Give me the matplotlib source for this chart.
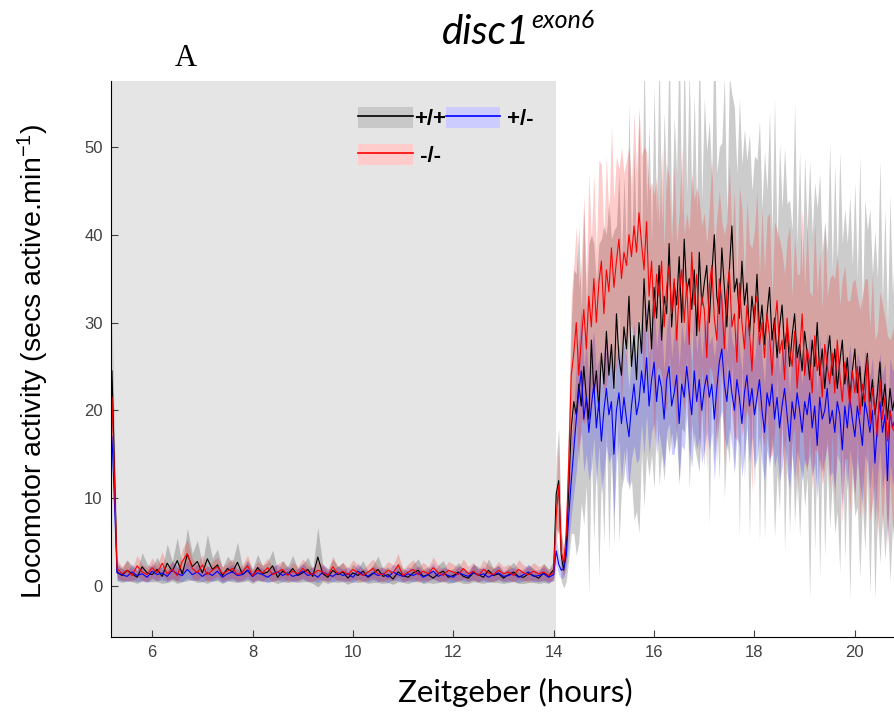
import numpy as np
import matplotlib
matplotlib.use('Agg')
import matplotlib.pyplot as plt
from matplotlib.patches import Patch
from matplotlib.lines import Line2D
from matplotlib.legend_handler import HandlerTuple

plt.rcParams['mathtext.fontset'] = 'custom'
plt.rcParams['mathtext.rm'] = 'Liberation Sans'
plt.rcParams['mathtext.it'] = 'Liberation Sans:italic'
plt.rcParams['axes.unicode_minus'] = False

# time axis: dark phase every 0.1 h, light phase every 0.05 h
t_dark = np.linspace(5.2, 14.0, 89)
t_light = np.linspace(14.05, 20.8, 136)

# mean activity, +/+ (black)
wt_dark = [24.5, 1.6, 1.2, 1.8, 1.4, 1.0, 2.2, 1.5, 1.3, 1.9,
    1.1, 2.6, 1.7, 2.9, 1.4, 3.6, 2.2, 2.8, 1.5, 3.1,
    1.9, 2.4, 1.2, 2.0, 1.6, 2.7, 1.3, 1.8, 1.1, 2.1,
    1.4, 1.6, 2.3, 1.0, 1.7, 1.3, 2.0, 1.2, 1.5, 1.9,
    1.1, 3.3, 1.4, 1.0, 1.8, 1.3, 1.6, 0.9, 1.5, 1.2,
    1.7, 1.0, 1.4, 1.9, 1.1, 1.3, 0.8, 1.6, 1.2, 1.0,
    1.5, 1.8, 1.1, 1.3, 0.9, 1.4, 1.7, 1.0, 1.2, 1.6,
    1.1, 0.9, 1.5, 1.3, 1.0, 1.8, 1.2, 1.4, 0.9, 1.3,
    1.6, 1.1, 1.0, 1.4, 1.2, 0.9, 1.5, 1.1, 1.9]
wt_light = [10.5, 12.0, 3.5, 1.8, 4.5, 11.0, 18.0, 21.0, 19.5, 23.0,
    20.5, 25.0, 21.5, 19.0, 28.0, 22.0, 24.5, 20.0, 26.5, 23.0,
    29.0, 24.0, 27.5, 22.5, 31.0, 26.0, 24.0, 29.5, 27.0, 33.0,
    25.0, 28.5, 23.5, 30.0, 26.5, 35.0, 29.0, 32.5, 27.0, 34.0,
    30.5, 36.5, 28.0, 33.0, 31.0, 39.0, 29.5, 34.5, 32.0, 37.5,
    30.0, 39.5, 33.5, 35.0, 31.5, 36.0, 28.5, 38.0, 32.0, 34.5,
    36.5, 30.0, 35.5, 40.0, 33.0, 31.0, 38.5, 34.0, 29.5, 36.0,
    41.0, 33.5, 35.0, 30.5, 37.0, 32.0, 34.5, 28.5, 33.0, 30.0,
    35.5, 29.0, 32.0, 27.5, 31.0, 34.0, 28.0, 30.5, 26.0, 29.5,
    32.0, 27.0, 29.5, 25.0, 28.5, 31.0, 26.0, 27.5, 24.5, 29.0,
    26.5, 23.5, 28.0, 25.0, 30.0, 24.0, 27.0, 22.5, 26.0, 28.5,
    24.0, 27.0, 22.5, 25.5, 28.0, 23.0, 26.0, 21.5, 24.5, 27.0,
    22.0, 25.0, 20.5, 24.0, 26.5, 21.0, 23.5, 19.5, 22.0, 25.5,
    20.5, 23.0, 19.0, 22.5, 20.0, 21.5]

# mean activity, +/- (blue)
het_dark = [17.0, 1.5, 1.3, 1.1, 1.6, 1.2, 1.4, 1.0, 1.7, 1.3,
    1.5, 1.1, 1.8, 1.4, 1.2, 1.9, 1.3, 1.6, 1.1, 1.5,
    1.2, 1.7, 1.0, 1.4, 1.6, 1.2, 1.3, 1.8, 1.1, 1.5,
    1.3, 1.0, 1.4, 1.6, 1.2, 1.5, 1.1, 1.3, 1.7, 1.2,
    1.4, 1.0, 1.6, 1.3, 1.1, 1.5, 1.2, 1.4, 1.0, 1.7,
    1.3, 1.1, 1.5, 1.2, 1.4, 1.0, 1.6, 1.3, 1.1, 1.4,
    1.2, 1.5, 1.0, 1.3, 1.7, 1.1, 1.4, 1.2, 1.0, 1.5,
    1.3, 1.1, 1.6, 1.2, 1.4, 1.0, 1.3, 1.5, 1.1, 1.2,
    1.4, 1.0, 1.3, 1.6, 1.1, 1.2, 1.4, 1.0, 1.3]
het_light = [4.0, 2.5, 1.8, 2.0, 3.5, 8.0, 12.0, 15.5, 19.0, 22.0,
    24.5, 19.0, 21.5, 17.5, 20.5, 23.0, 18.0, 21.0, 16.5, 20.0,
    22.5, 19.5, 21.0, 15.0, 20.0, 22.0, 18.5, 21.5, 19.0, 17.0,
    20.5, 23.0, 19.5, 21.0, 24.5, 22.0, 26.0, 20.5, 23.5, 25.5,
    21.0, 24.0, 22.5, 19.0, 23.5, 25.0, 20.5, 22.0, 24.0, 18.5,
    23.0, 21.5, 25.0, 22.0, 19.5, 24.5, 21.0, 23.5, 20.0, 22.5,
    24.0, 21.5, 23.0, 19.0, 22.5, 25.5, 27.0, 23.0, 21.0, 24.5,
    22.0, 20.0, 23.5, 21.5, 18.5, 22.0, 24.0, 20.5, 22.5, 19.5,
    21.5, 23.5, 20.0, 17.5, 22.0, 20.5, 23.0, 19.0, 21.5, 18.0,
    20.5, 22.5, 19.5, 16.5, 21.0, 19.0, 22.0, 20.0, 17.5, 21.0,
    19.5, 22.0, 18.0, 20.5, 16.0, 21.5, 19.0, 20.0, 22.5, 18.5,
    20.0, 17.5, 21.0, 19.5, 15.5, 20.5, 18.0, 21.5, 19.0, 17.0,
    20.5, 18.5, 16.0, 21.0, 19.5, 17.5, 20.0, 14.0, 18.5, 21.0,
    17.5, 19.5, 12.0, 20.0, 18.0, 19.0]

# mean activity, -/- (red)
hom_dark = [21.5, 2.0, 1.4, 1.8, 1.2, 2.3, 1.6, 1.3, 2.1, 1.5,
    2.6, 1.4, 1.9, 1.2, 2.8, 3.7, 2.0, 1.5, 2.4, 1.3,
    1.8, 2.2, 1.4, 1.7, 2.0, 1.3, 1.6, 2.3, 1.2, 1.8,
    1.5, 2.1, 1.3, 1.6, 1.9, 1.2, 1.7, 1.4, 2.0, 1.5,
    1.3, 1.8, 1.6, 1.2, 2.2, 1.4, 1.7, 1.3, 1.9, 1.5,
    1.2, 1.6, 2.0, 1.4, 1.3, 1.8, 1.5, 2.4, 1.2, 1.6,
    1.9, 1.3, 1.7, 1.4, 2.1, 1.5, 1.2, 1.8, 1.6, 1.3,
    2.0, 1.4, 1.7, 1.2, 1.9, 1.5, 1.3, 1.8, 1.4, 1.6,
    1.2, 1.9, 1.5, 1.3, 1.7, 1.4, 1.6, 1.2, 1.5]
hom_light = [8.0, 11.5, 4.0, 2.6, 6.0, 14.0, 24.0, 26.5, 30.0, 24.0,
    28.0, 31.5, 27.0, 33.0, 29.5, 35.0, 30.0, 34.5, 37.0, 31.0,
    36.0, 33.5, 38.5, 34.0, 37.0, 39.5, 35.0, 38.0, 36.5, 40.0,
    37.5, 41.0, 38.0, 42.5, 39.0, 36.0, 41.5, 33.0, 37.0, 30.5,
    35.5, 33.0, 37.0, 29.5, 34.0, 36.5, 31.0, 35.0, 28.0, 33.5,
    36.0, 30.0, 34.5, 27.5, 38.0, 32.0, 35.5, 29.0, 33.0, 31.5,
    26.0, 34.0, 36.5, 30.5, 28.0, 35.0, 32.5, 27.0, 33.5, 36.0,
    29.5, 31.0, 25.5, 34.5, 30.0, 27.0, 32.0, 29.0, 24.5, 31.5,
    33.0, 27.5, 30.0, 26.0, 31.0, 28.5, 24.0, 29.5, 32.5, 26.5,
    28.0, 23.5, 30.5, 27.0, 25.0, 29.0, 22.5, 26.5, 31.0, 24.0,
    27.0, 25.5, 22.0, 28.5, 24.5, 26.0, 21.5, 27.5, 25.0, 23.0,
    26.5, 22.0, 28.0, 24.0, 21.0, 25.5, 23.5, 20.5, 24.5, 22.0,
    25.0, 19.5, 23.0, 21.0, 26.0, 18.5, 22.5, 20.0, 17.0, 23.5,
    19.0, 21.5, 16.5, 20.0, 18.0, 17.5]

# error band half widths
wt_err_dark = [6.0, 1.0, 0.8, 1.2, 0.9, 0.7, 1.6, 1.0, 0.8, 1.4,
    0.8, 2.2, 1.1, 2.6, 0.9, 3.0, 1.5, 2.4, 1.0, 2.8,
    1.3, 1.8, 0.9, 1.4, 1.1, 2.3, 0.8, 1.2, 0.8, 1.5,
    0.9, 1.1, 1.8, 0.7, 1.2, 0.9, 1.5, 0.8, 1.0, 1.4,
    0.8, 3.4, 0.9, 0.7, 1.3, 0.9, 1.1, 0.7, 1.0, 0.8,
    1.2, 0.7, 1.0, 1.5, 0.8, 0.9, 0.6, 1.1, 0.8, 0.7,
    1.0, 1.3, 0.8, 0.9, 0.6, 1.0, 1.2, 0.7, 0.8, 1.1,
    0.8, 0.6, 1.0, 0.9, 0.7, 1.3, 0.8, 1.0, 0.6, 0.9,
    1.1, 0.8, 0.7, 1.0, 0.8, 0.6, 1.1, 0.8, 1.0]
wt_err_light = [4, 6, 3, 2, 4, 8, 12, 15, 16, 18,
    11, 18, 10, 20, 12, 17, 10, 19, 13, 18,
    11, 20, 12, 18, 10, 21, 13, 17, 11, 22,
    13, 21, 15, 24, 11, 26, 14, 20, 12, 23,
    11, 25, 13, 21, 14, 24, 12, 19, 15, 26,
    12, 22, 11, 24, 13, 20, 14, 25, 12, 21,
    13, 23, 11, 26, 14, 19, 12, 24, 13, 22,
    15, 21, 12, 25, 11, 20, 14, 23, 12, 19,
    13, 24, 11, 22, 14, 20, 12, 25, 13, 21,
    11, 23, 14, 19, 12, 24, 13, 22, 11, 20,
    14, 25, 12, 21, 13, 23, 11, 19, 12, 22,
    12, 21, 14, 24, 11, 20, 13, 23, 12, 19,
    13, 24, 11, 20, 14, 22, 12, 21, 13, 23,
    12, 20, 11, 22, 13, 19]

het_err_dark = [3.0, 0.8, 0.7, 0.6, 0.9, 0.7, 0.8, 0.6, 0.9, 0.7,
    0.8, 0.6, 1.0, 0.8, 0.7, 1.0, 0.7, 0.9, 0.6, 0.8,
    0.7, 0.9, 0.6, 0.8, 0.9, 0.7, 0.7, 1.0, 0.6, 0.8,
    0.7, 0.6, 0.8, 0.9, 0.7, 0.8, 0.6, 0.7, 0.9, 0.7,
    0.8, 0.6, 0.9, 0.7, 0.6, 0.8, 0.7, 0.8, 0.6, 0.9,
    0.7, 0.6, 0.8, 0.7, 0.8, 0.6, 0.9, 0.7, 0.6, 0.8,
    0.7, 0.8, 0.6, 0.7, 0.9, 0.6, 0.8, 0.7, 0.6, 0.8,
    0.7, 0.6, 0.9, 0.7, 0.8, 0.6, 0.7, 0.8, 0.6, 0.7,
    0.8, 0.6, 0.7, 0.9, 0.6, 0.7, 0.8, 0.6, 0.7]
het_err_light = [1.5, 1.2, 1.0, 1.0, 1.5, 3.0, 4.0, 5.0, 6.0, 6.0,
    7.0, 6.0, 6.5, 5.5, 7.0, 6.0, 6.5, 5.0, 6.0, 7.0,
    6.5, 5.5, 6.0, 7.0, 6.0, 5.5, 6.5, 6.0, 7.0, 5.5,
    6.0, 7.0, 5.5, 6.5, 6.0, 7.0, 6.5, 5.5, 6.0, 7.0,
    6.0, 6.5, 7.0, 5.5, 6.0, 6.5, 5.5, 7.0, 6.0, 6.5,
    7.0, 6.0, 5.5, 6.5, 6.0, 7.0, 5.5, 6.5, 6.0, 7.0,
    6.5, 6.0, 5.5, 7.0, 6.0, 6.5, 7.0, 6.0, 5.5, 6.5,
    6.0, 7.0, 6.5, 5.5, 6.0, 7.0, 6.0, 6.5, 5.5, 6.0,
    7.0, 6.5, 6.0, 5.5, 6.5, 7.0, 6.0, 5.5, 6.5, 6.0,
    7.0, 6.0, 6.5, 5.5, 6.0, 7.0, 6.5, 6.0, 5.5, 6.5,
    6.0, 7.0, 5.5, 6.5, 6.0, 7.0, 6.0, 5.5, 6.5, 6.0,
    7.0, 6.5, 6.0, 5.5, 6.5, 6.0, 7.0, 6.0, 5.5, 6.5,
    6.0, 7.0, 6.5, 6.0, 5.5, 6.5, 6.0, 7.0, 6.0, 5.5,
    6.5, 6.0, 7.0, 6.0, 6.5, 6.0]

hom_err_dark = [3.0, 1.0, 0.8, 1.1, 0.7, 1.2, 0.9, 0.8, 1.1, 0.9,
    1.3, 0.8, 1.0, 0.7, 1.4, 1.6, 1.1, 0.9, 1.2, 0.8,
    1.0, 1.1, 0.8, 0.9, 1.1, 0.7, 0.9, 1.2, 0.7, 1.0,
    0.9, 1.1, 0.8, 0.9, 1.0, 0.7, 1.0, 0.8, 1.1, 0.9,
    0.8, 1.0, 0.9, 0.7, 1.2, 0.8, 1.0, 0.8, 1.1, 0.9,
    0.7, 0.9, 1.1, 0.8, 0.8, 1.0, 0.9, 1.3, 0.7, 0.9,
    1.1, 0.8, 1.0, 0.8, 1.2, 0.9, 0.7, 1.0, 0.9, 0.8,
    1.1, 0.8, 1.0, 0.7, 1.1, 0.9, 0.8, 1.0, 0.8, 0.9,
    0.7, 1.1, 0.9, 0.8, 1.0, 0.8, 0.9, 0.7, 0.9]
hom_err_light = [3, 5, 2, 1.5, 3, 6, 9, 10, 11, 10,
    9, 13, 8, 14, 10, 12, 8, 14, 11, 9,
    13, 8, 14, 10, 12, 8, 15, 9, 12, 10,
    8, 13, 9, 12, 10, 14, 8, 12, 9, 14,
    11, 8, 13, 9, 14, 10, 8, 13, 11, 9,
    14, 10, 8, 13, 9, 12, 10, 15, 8, 11,
    13, 9, 12, 8, 14, 10, 9, 13, 8, 12,
    10, 14, 9, 11, 13, 8, 12, 10, 14, 9,
    12, 8, 13, 10, 11, 14, 9, 12, 8, 13,
    10, 12, 9, 14, 8, 11, 13, 9, 12, 10,
    14, 8, 11, 13, 9, 12, 10, 14, 8, 12,
    9, 13, 10, 8, 14, 11, 9, 12, 10, 13,
    8, 12, 10, 14, 9, 11, 13, 8, 12, 10,
    13, 9, 12, 8, 11, 13]

genotypes = ['+/+', ' +/-', ' -/-']
colors = ['k', '#0000ff', '#ff0000']
legend_fill = ['#c8c8c8', '#ccccff', '#ffcccc']


def shaded_line(ax, t, mean, err, color):
    mean = np.asarray(mean, dtype=float)
    err = np.asarray(err, dtype=float)
    ax.fill_between(t, mean - err, mean + err, color=color, alpha=0.2,
        linewidth=0)
    ax.plot(t, mean, color=color, linewidth=0.8)


t = np.concatenate([t_dark, t_light])
means = [wt_dark + wt_light, het_dark + het_light, hom_dark + hom_light]
errs = [wt_err_dark + wt_err_light, het_err_dark + het_err_light,
    hom_err_dark + hom_err_light]

fig = plt.figure(figsize=(8.94, 7.18), dpi=100)
ax = fig.add_axes([111/894, 81/718, 1 - 111/894, 556/718])

ax.axvspan(5.0, 14.04, color='#e5e5e5', linewidth=0, zorder=0)
for m, e, c in zip(means, errs, colors):
    shaded_line(ax, t, m, e, c)

ax.set_xlim(5.18, 20.78)
ax.set_ylim(-5.8, 57.5)
ax.set_xticks([6, 8, 10, 12, 14, 16, 18, 20])
ax.set_yticks([0, 10, 20, 30, 40, 50])
ax.spines['top'].set_visible(False)
ax.spines['right'].set_visible(False)
ax.tick_params(direction='in', length=5, width=0.8, labelsize=12, pad=6,
    labelcolor='#404040', color='#404040')
for lab in ax.get_xticklabels() + ax.get_yticklabels():
    lab.set_fontfamily('Liberation Sans')

ax.set_ylabel('Locomotor activity (secs active.min$^{-1}$)',
    family='Liberation Sans', fontsize=20.5)
ax.yaxis.set_label_coords(-0.077, 0.495)
ax.set_xlabel('Zeitgeber (hours)', family='Lato', fontsize=22.5)
ax.xaxis.set_label_coords(0.516, -0.074)

# title with superscript
fig.text(530/894, 1 - 44/718, 'disc1', family='Lato', style='italic',
    fontsize=29, ha='right', va='baseline')
fig.text(531/894, 1 - 28/718, 'exon6', family='Lato', style='italic',
    fontsize=18, ha='left', va='baseline')
fig.text(186/894, 1 - 66/718, 'A', family='Liberation Serif', fontsize=22,
    ha='center', va='baseline')

# legend: band patch with line on top
handles = []
for c, f in zip(colors, legend_fill):
    handles.append((Patch(facecolor=f, edgecolor='none'),
        Line2D([], [], color=c, linewidth=1.2)))
order = [0, 2, 1]
leg = ax.legend([handles[i] for i in order], [genotypes[i] for i in order],
    handler_map={tuple: HandlerTuple(ndivide=1)}, ncol=2, frameon=False,
    loc='upper left', bbox_to_anchor=(347/894, 1 - 96/718),
    bbox_transform=fig.transFigure, borderpad=0, handlelength=2.45,
    handleheight=1.1, handletextpad=0.05, columnspacing=0.0,
    labelspacing=0.62, prop={'family': 'Liberation Sans', 'weight': 'bold',
    'size': 16})

fig.savefig('out.png', dpi=100)
